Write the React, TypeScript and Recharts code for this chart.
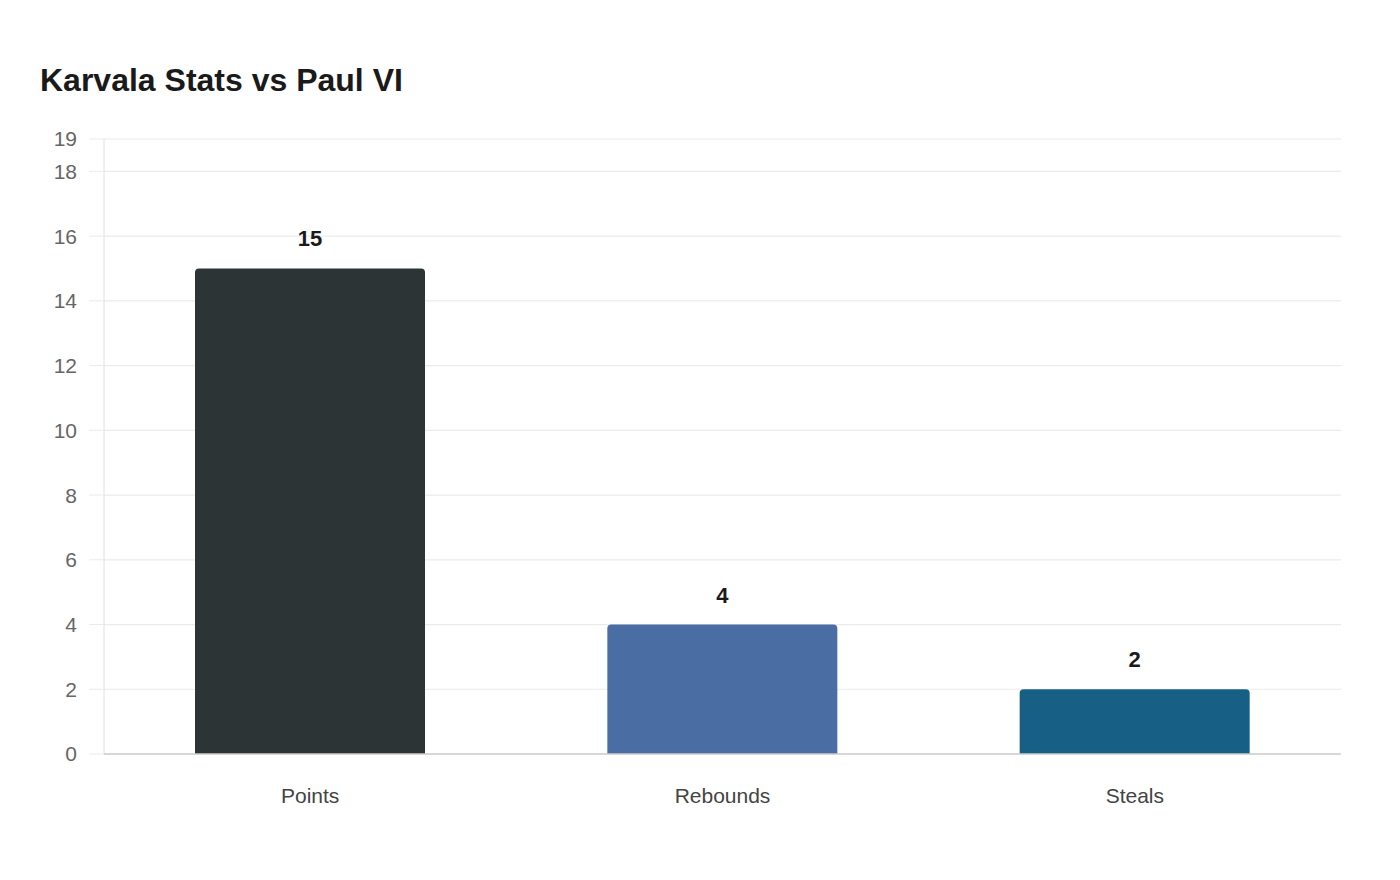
import React from "react";
import { BarChart, Bar, XAxis, YAxis, CartesianGrid, Cell, LabelList } from "recharts";

const categories = ["Points", "Rebounds", "Steals"];
const values = [15, 4, 2];
const barColors = ["#2d3436", "#4a6ea3", "#185f86"];
const yTicks = [0, 2, 4, 6, 8, 10, 12, 14, 16, 18, 19];
const title = "Karvala Stats vs Paul VI";

const data = categories.map((c, i) => ({ name: c, value: values[i] }));

const FONT = '"Liberation Sans", Arial, sans-serif';

export default function App() {
  return (
    <div style={{ position: "relative", width: 1400, height: 880, margin: -8, background: "#fff", fontFamily: FONT }}>
      <svg width={1400} height={120} style={{ position: "absolute", left: 0, top: 0 }}>
        <text x={40} y={91} fontFamily={FONT} fontSize={32} fontWeight="bold" fill="#1a1a1a">
          {title}
        </text>
      </svg>
      <div style={{ position: "absolute", left: 0, top: 0 }}>
        <BarChart
          width={1400}
          height={880}
          data={data}
          margin={{ top: 139, right: 59, bottom: 91, left: 1 }}
          barSize={230}
        >
          <CartesianGrid vertical={false} stroke="#ebebeb" strokeWidth={1.2} />
          <YAxis
            width={103}
            domain={[0, 19]}
            ticks={yTicks}
            interval={0}
            tickSize={15}
            tickMargin={12}
            tickLine={{ stroke: "#ebebeb" }}
            axisLine={{ stroke: "#e0e0e0" }}
            tick={{ fill: "#666", fontSize: 21, fontFamily: FONT }}
          />
          <XAxis
            dataKey="name"
            height={35}
            tickSize={0}
            tickMargin={34}
            tickLine={false}
            axisLine={{ stroke: "#cccccc", strokeWidth: 1.5 }}
            tick={{ fill: "#444", fontSize: 21, fontFamily: FONT }}
          />
          <Bar dataKey="value" radius={[4, 4, 0, 0]} isAnimationActive={false}>
            {data.map((d, i) => (
              <Cell key={d.name} fill={barColors[i]} />
            ))}
            <LabelList
              dataKey="value"
              position="top"
              offset={22}
              fill="#1a1a1a"
              fontSize={22}
              fontWeight="bold"
              fontFamily={FONT}
            />
          </Bar>
        </BarChart>
      </div>
    </div>
  );
}
